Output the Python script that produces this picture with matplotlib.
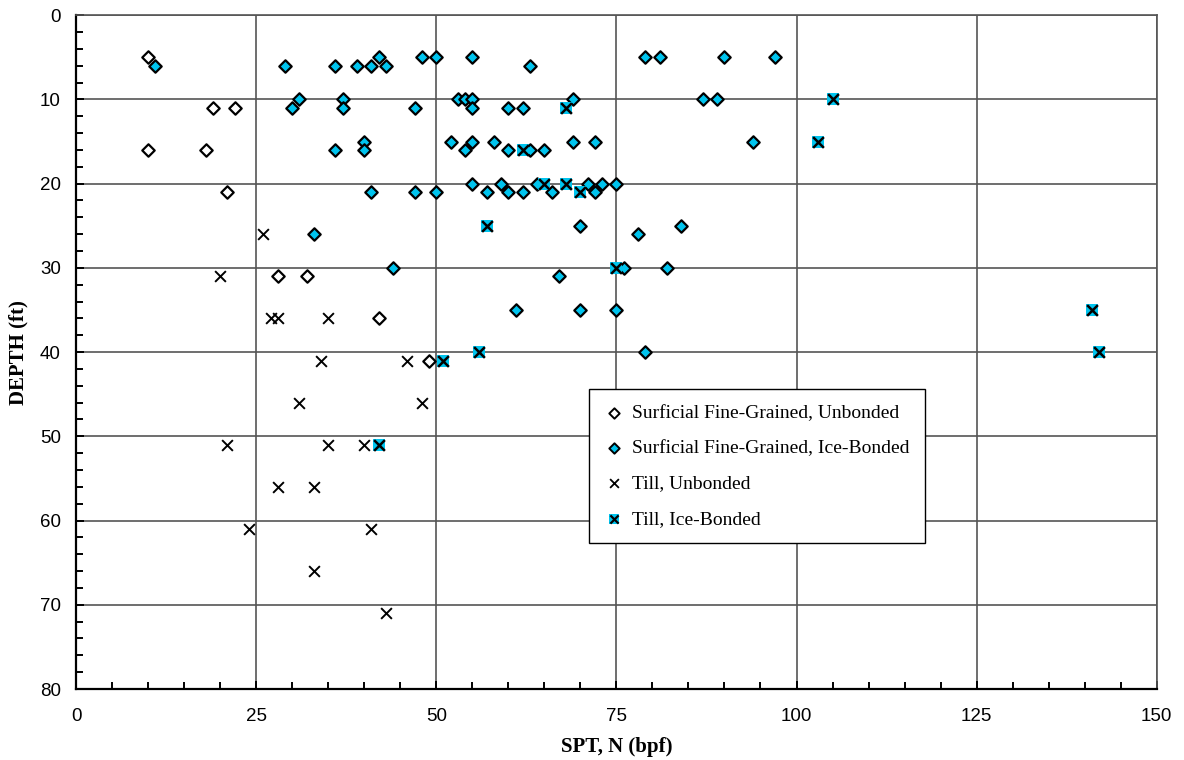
import numpy as np
import matplotlib
matplotlib.use('Agg')
import matplotlib.pyplot as plt
from matplotlib.ticker import MultipleLocator
from matplotlib.legend_handler import HandlerTuple

# ─── DATA (SPT N, depth ft) ───────────────────────────────────────────────────
sfg_unb_n = [10, 19, 22, 10, 18, 21, 28, 32, 42, 49]
sfg_unb_d = [5, 11, 11, 16, 16, 21, 31, 31, 36, 41]

sfg_ice_n = [42, 48, 50, 55, 79, 81, 90, 97,
             11, 29, 36, 39, 41, 43, 63,
             31, 37, 53, 54, 55, 69, 87, 89,
             30, 37, 47, 55, 60, 62,
             40, 52, 55, 58, 69, 72, 94,
             36, 40, 54, 60, 63, 65,
             55, 59, 64, 71, 73, 75,
             41, 47, 50, 57, 60, 62, 66, 72,
             70, 84, 33, 78,
             44, 76, 82, 67,
             61, 70, 75, 79]
sfg_ice_d = [5, 5, 5, 5, 5, 5, 5, 5,
             6, 6, 6, 6, 6, 6, 6,
             10, 10, 10, 10, 10, 10, 10, 10,
             11, 11, 11, 11, 11, 11,
             15, 15, 15, 15, 15, 15, 15,
             16, 16, 16, 16, 16, 16,
             20, 20, 20, 20, 20, 20,
             21, 21, 21, 21, 21, 21, 21, 21,
             25, 25, 26, 26,
             30, 30, 30, 31,
             35, 35, 35, 40]

till_unb_n = [26, 20, 27, 28, 35, 34, 46, 31, 48, 21, 35, 40, 28, 33, 24, 41, 33, 43]
till_unb_d = [26, 31, 36, 36, 36, 41, 41, 46, 46, 51, 51, 51, 56, 56, 61, 61, 66, 71]

till_ice_n = [105, 68, 103, 62, 65, 68, 70, 57, 75, 141, 56, 142, 51, 42]
till_ice_d = [10, 11, 15, 16, 20, 20, 21, 25, 30, 35, 40, 40, 41, 51]

CYAN = '#00C4EE'
SERIF = ['Liberation Serif', 'DejaVu Serif']
SANS = ['Liberation Sans', 'DejaVu Sans']

fig = plt.figure(figsize=(11.84, 7.6), dpi=100)
ax = fig.add_axes([0.0642, 0.0934, 0.9128, 0.8866])

# gridlines
ax.set_xlim(0, 150)
ax.set_ylim(80, 0)
ax.xaxis.set_major_locator(MultipleLocator(25))
ax.xaxis.set_minor_locator(MultipleLocator(5))
ax.yaxis.set_major_locator(MultipleLocator(10))
ax.yaxis.set_minor_locator(MultipleLocator(2))
ax.grid(True, which='major', color='#555555', linewidth=1.2)
ax.set_axisbelow(True)

# series
ax.scatter(sfg_unb_n, sfg_unb_d, marker='D', s=40, facecolor='white',
           edgecolor='black', linewidth=1.6, zorder=3)
ax.scatter(sfg_ice_n, sfg_ice_d, marker='D', s=40, facecolor=CYAN,
           edgecolor='black', linewidth=1.6, zorder=3)
ax.scatter(till_unb_n, till_unb_d, marker='x', s=60, color='black',
           linewidth=1.4, zorder=3)
ax.scatter(till_ice_n, till_ice_d, marker='s', s=85, color=CYAN,
           linewidth=0, zorder=4)
ax.scatter(till_ice_n, till_ice_d, marker='x', s=60, color='black',
           linewidth=1.8, zorder=5)

# axes styling
for side in ['left', 'bottom']:
    ax.spines[side].set_linewidth(1.6)
for side in ['top', 'right']:
    ax.spines[side].set_color('#555555')
    ax.spines[side].set_linewidth(1.2)
ax.tick_params(which='both', direction='in', width=1.4, colors='black',
               top=False, right=False)
ax.tick_params(which='major', length=6)
ax.tick_params(which='minor', length=5)
ax.tick_params(axis='x', which='major', pad=14)
ax.tick_params(axis='y', which='major', pad=11)
for lab in ax.get_xticklabels() + ax.get_yticklabels():
    lab.set_family(SANS)
    lab.set_fontsize(13.5)

ax.set_xlabel('SPT, N (bpf)', family=SERIF, fontsize=15, fontweight='bold', labelpad=8)
ax.set_ylabel('DEPTH (ft)', family=SERIF, fontsize=15, fontweight='bold', labelpad=8)

# legend
h1 = ax.scatter([], [], marker='D', s=28, facecolor='white', edgecolor='black', linewidth=1.4)
h2 = ax.scatter([], [], marker='D', s=28, facecolor=CYAN, edgecolor='black', linewidth=1.4)
h3 = ax.scatter([], [], marker='x', s=40, color='black', linewidth=1.3)
h4a = ax.scatter([], [], marker='s', s=45, color=CYAN, linewidth=0)
h4b = ax.scatter([], [], marker='x', s=35, color='black', linewidth=1.6)
leg = ax.legend([h1, h2, h3, (h4a, h4b)],
                ['Surficial Fine-Grained, Unbonded',
                 'Surficial Fine-Grained, Ice-Bonded',
                 'Till, Unbonded',
                 'Till, Ice-Bonded'],
                handler_map={tuple: HandlerTuple(ndivide=1)},
                loc='upper left', bbox_to_anchor=(0.4746, 0.445),
                prop={'family': SERIF, 'size': 14},
                frameon=True, fancybox=False, edgecolor='black', framealpha=1,
                labelspacing=0.9, handlelength=1.0, handletextpad=0.4,
                borderpad=0.8, borderaxespad=0, scatterpoints=1)
leg.get_frame().set_linewidth(1.0)
leg.set_zorder(6)

plt.savefig('out.png', dpi=100)
plt.close()
